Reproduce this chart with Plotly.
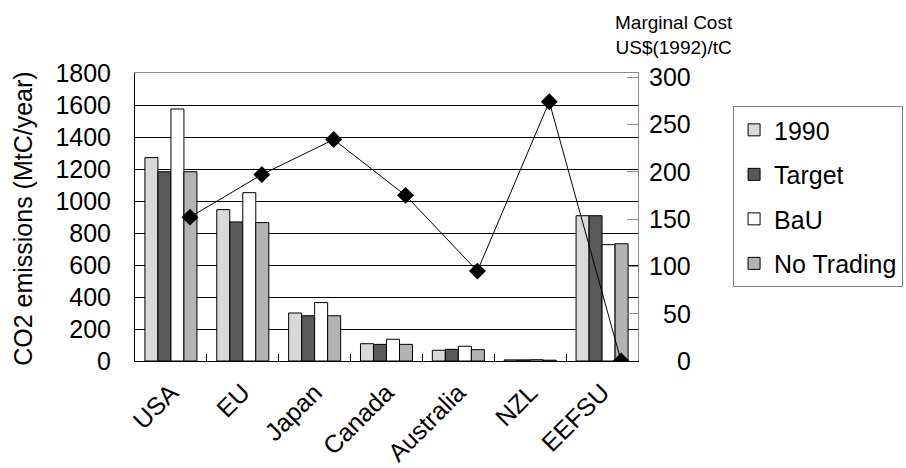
import plotly.graph_objects as go

categories = ["USA", "EU", "Japan", "Canada", "Australia", "NZL", "EEFSU"]
series_names = ["1990", "Target", "BaU", "No Trading"]
v1990 = [1271, 946, 300, 108, 67, 7, 908]
vtarget = [1183, 869, 283, 104, 73, 7, 908]
vbau = [1575, 1052, 365, 136, 92, 8, 727]
vnotrading = [1183, 865, 283, 104, 71, 5, 733]
marginal_cost = [152, 197, 234, 175, 95, 274, 0]
left_ticks = list(range(0, 1801, 200))
right_ticks = [0, 50, 100, 150, 200, 250, 300]

colors = ["#d9d9d9", "#595959", "#ffffff", "#b3b3b3"]
FONT = "Liberation Sans, Arial, sans-serif"
FS = 25

fig = go.Figure()
for name, vals, col in zip(series_names, [v1990, vtarget, vbau, vnotrading], colors):
    fig.add_trace(go.Bar(
        x=categories, y=vals, name=name, legendgroup=name,
        marker=dict(color=col, line=dict(color="#000000", width=1)),
        xaxis="x", yaxis="y",
    ))

fig.add_trace(go.Scatter(
    x=categories, y=marginal_cost, mode="lines+markers",
    line=dict(color="#000000", width=1),
    marker=dict(symbol="diamond", size=13, color="#000000"),
    xaxis="x2", yaxis="y2", showlegend=False,
))

fig.update_layout(
    width=906, height=468,
    margin=dict(l=135, r=268, t=73, b=107, autoexpand=False),
    paper_bgcolor="white", plot_bgcolor="white",
    font=dict(family=FONT, size=FS, color="#000000"),
    barmode="group", bargap=0.276, bargroupgap=0,
    xaxis=dict(
        type="category", categoryorder="array", categoryarray=categories,
        tickangle=-45, ticks="inside", tickson="boundaries", ticklen=7,
        tickcolor="#000000", showline=True, linecolor="#000000", linewidth=1,
        showgrid=False, zeroline=False, tickfont=dict(size=FS), automargin=False,
        ticklabelstandoff=6,
    ),
    xaxis2=dict(
        type="category", categoryorder="array", categoryarray=categories,
        overlaying="x", side="top", range=[-0.765, 6.235],
        showticklabels=False, ticks="", showgrid=False, zeroline=False,
        showline=True, linecolor="#8c8c8c", linewidth=1, automargin=False,
    ),
    yaxis=dict(
        range=[0, 1800], tickvals=left_ticks, ticks="", ticklabelstandoff=18,
        showgrid=True, gridcolor="#000000", gridwidth=1, zeroline=False,
        showline=True, linecolor="#000000", linewidth=1, tickfont=dict(size=FS),
        automargin=False,
    ),
    yaxis2=dict(
        overlaying="y", side="right", range=[0, 304.3], tickvals=right_ticks,
        ticks="inside", ticklen=11, tickcolor="#8c8c8c", showticklabels=False,
        showgrid=False, zeroline=False, showline=True, linecolor="#8c8c8c", linewidth=1,
        automargin=False,
    ),
    legend=dict(
        x=1.189, xanchor="left", y=0.885, yanchor="top",
        bordercolor="#7f7f7f", borderwidth=1, bgcolor="white",
        font=dict(size=FS), tracegroupgap=9,
    ),
    showlegend=True,
)

annotations = [
    dict(text="CO2 emissions (MtC/year)", xref="paper", yref="paper",
         x=-0.2227, y=0.497, textangle=-90, showarrow=False,
         xanchor="center", yanchor="middle", font=dict(size=FS)),
    dict(text="Marginal Cost<br>US$(1992)/tC", xref="paper", yref="paper",
         x=1.071, y=1.132, showarrow=False, xanchor="center", yanchor="middle",
         font=dict(size=19)),
]
for t in right_ticks:
    annotations.append(dict(text=str(t), xref="paper", yref="y2", x=1.109, y=t,
                            showarrow=False, xanchor="right", yanchor="middle",
                            font=dict(size=FS)))
fig.update_layout(annotations=annotations)

fig.write_html("out.html", config={"displayModeBar": False},
               post_script="document.body.style.margin='0';")
